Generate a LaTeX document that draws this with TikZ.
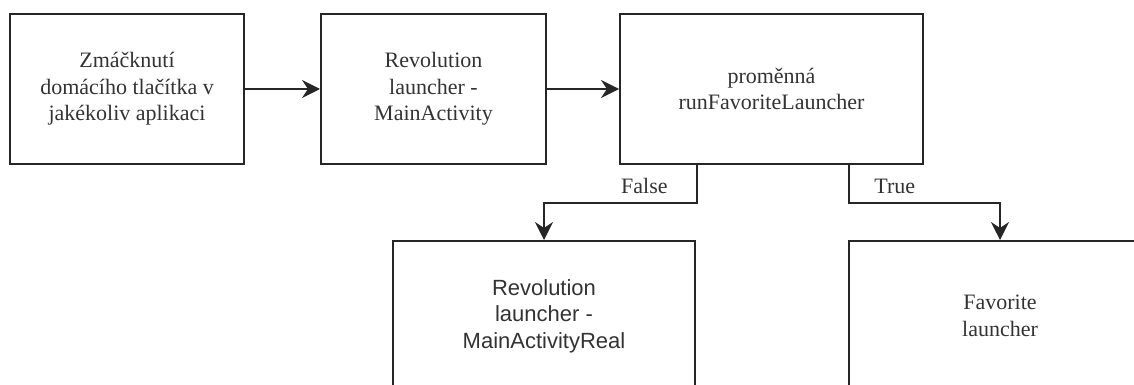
\documentclass[tikz,border=0pt]{standalone}
\usepackage{fontspec}
\setmainfont{Liberation Serif}
\setsansfont{Liberation Sans}
\usepackage{tikz}
\usetikzlibrary{arrows.meta, positioning}
\definecolor{txtgray}{gray}{0.2}
\definecolor{lngray}{gray}{0.15}

\begin{document}
\begin{tikzpicture}[
  font=\fontsize{11}{13.2}\selectfont,
  box/.style={rectangle, draw=lngray, line width=1pt, text=txtgray, align=center,
              minimum height=75pt, inner sep=0pt},
  flow/.style={-{Stealth[length=9pt, width=9pt, inset=3pt]}, line width=1pt, lngray},
  lbl/.style={text=txtgray, inner sep=0pt}
]
\useasboundingbox (0,0) rectangle (567pt,-192.5pt);

\node[box, minimum width=117pt] (press) at (63.5pt,-44.5pt) {Zmáčknutí\\domácího tlačítka v\\jakékoliv aplikaci};
\node[box, minimum width=112.5pt, right=37.5pt of press] (main) {Revolution\\launcher -\\MainActivity};
\node[box, minimum width=151.5pt, right=36pt of main] (flag) {proměnná\\runFavoriteLauncher};

\node[box, minimum width=151pt, font=\sffamily\fontsize{11}{13.2}\selectfont,
      below left=37.5pt and 37.5pt of flag.south west, anchor=north] (real) {Revolution\\launcher -\\MainActivityReal};
\node[box, minimum width=151pt,
      below right=37.5pt and 38pt of flag.south east, anchor=north] (fav) {Favorite\\launcher};

\draw[flow] (press) -- (main);
\draw[flow] (main) -- (flag);

\coordinate (fsplit) at ([xshift=39pt]flag.south west);
\coordinate (tsplit) at ([xshift=-37.5pt]flag.south east);
\draw[flow] (fsplit) -- ++(0,-19pt) -| (real.north);
\draw[flow] (tsplit) -- ++(0,-19pt) -| (fav.north);
\node[lbl, anchor=east] (no) at ([xshift=-14.5pt, yshift=-10.5pt]fsplit) {False};
\node[lbl, anchor=west] (yes) at ([xshift=12.5pt, yshift=-10.5pt]tsplit) {True};
\end{tikzpicture}
\end{document}
